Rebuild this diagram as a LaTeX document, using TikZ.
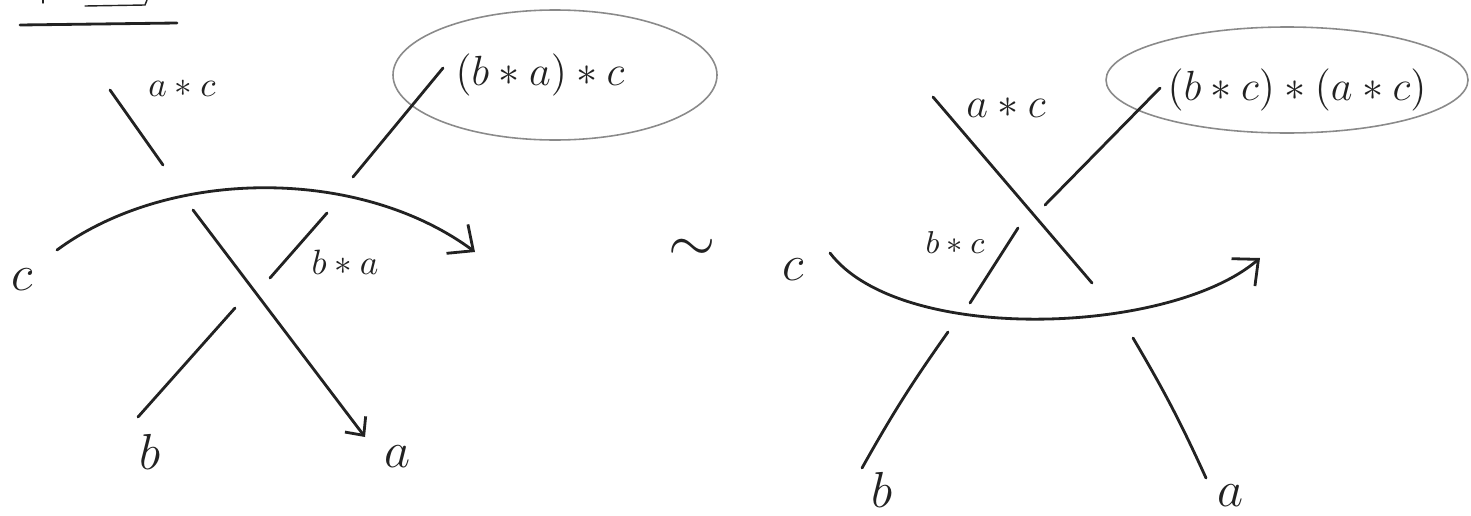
\documentclass[tikz,border=0pt]{standalone}
\usepackage{amsmath,amssymb}
\usepackage{xcolor}
\usetikzlibrary{arrows.meta}
\definecolor{ink}{HTML}{222222}
\definecolor{pencil}{HTML}{8A8A8A}

\begin{document}
\begin{tikzpicture}[
    x=0.01cm, y=-0.01cm,
    strand/.style={draw=ink, thick, line cap=round},
    arr/.style={strand, -{Straight Barb[length=2mm, width=3.6mm]}},
    tip/.style={strand, -{Straight Barb[length=1.4mm, width=2.6mm]}},
    blob/.style={draw=pencil, line width=0.45pt},
    lbl/.style={inner sep=0pt, text=ink},
    big/.style={lbl, font=\large},
    letter/.style={lbl, font=\Large}
]
    \useasboundingbox (0,0) rectangle (1471,515);

    % Cut-off heading
    \coordinate (h1) at (20,25); \coordinate (h2) at (177,23);
    \draw[strand] (h1) -- (h2);
    \draw[strand, thin] (43,0) -- (43,3);
    \draw[strand, thin] (85,6) -- (145,5) -- (147,0);

    % Left diagram: strand ends
    \coordinate (la1) at (110,90);  \coordinate (la2) at (163,165);
    \coordinate (la3) at (193,210); \coordinate (la4) at (365,437);
    \coordinate (lb1) at (138,417); \coordinate (lb2) at (235,308);
    \coordinate (lb3) at (270,278); \coordinate (lb4) at (327,213);
    \coordinate (lb5) at (353,177); \coordinate (lb6) at (443,68);
    \coordinate (lc1) at (57,250);  \coordinate (lc2) at (475,252);

    % Left diagram: labels
    \node[lbl] (lac) at (182,88) {$a*c$};
    \node[lbl] (lba) at (345,262) {$b*a$};
    \node[big] (lexpr) at (540,75) {$(b*a)*c$};
    \node[letter] (lc) at (22,280) {$c$};
    \node[letter] (lb) at (150,452) {$b$};
    \node[letter] (la) at (398,457) {$a$};
    \draw[blob] (555,75) ellipse [x radius=162, y radius=65];

    % Left diagram: strands
    \draw[strand] (la1) -- (la2);
    \draw[tip] (la3) -- (la4);
    \draw[strand] (lb1) -- (lb2);
    \draw[strand] (lb3) -- (lb4);
    \draw[strand] (lb5) -- (lb6);
    \draw[arr] (lc1) .. controls (170,167) and (360,167) .. (lc2);

    % Equivalence
    \node[lbl, font=\LARGE] (eqv) at (692,250) {$\sim$};

    % Right diagram: strand ends
    \coordinate (ra1) at (933,97);   \coordinate (ra2) at (1092,283);
    \coordinate (ra3) at (1133,338); \coordinate (ra4) at (1206,478);
    \coordinate (rb1) at (862,468);  \coordinate (rb2) at (948,332);
    \coordinate (rb3) at (970,303);  \coordinate (rb4) at (1018,228);
    \coordinate (rb5) at (1045,205); \coordinate (rb6) at (1160,88);
    \coordinate (rc1) at (830,253);  \coordinate (rc2) at (1260,258);

    % Right diagram: labels
    \node[big] (rac) at (1006,108) {$a*c$};
    \node[lbl, font=\small] (rbc) at (955,243) {$b*c$};
    \node[big] (rexpr) at (1297,90) {$(b*c)*(a*c)$};
    \node[letter] (rc) at (793,270) {$c$};
    \node[letter] (rb) at (882,490) {$b$};
    \node[letter] (ra) at (1230,496) {$a$};
    \draw[blob] (1287,80) ellipse [x radius=181, y radius=53];

    % Right diagram: strands
    \draw[strand] (ra1) -- (ra2);
    \draw[strand] (ra3) to[bend left=3] (ra4);
    \draw[strand] (rb1) to[bend left=3] (rb2);
    \draw[strand] (rb3) -- (rb4);
    \draw[strand] (rb5) -- (rb6);
    \draw[arr] (rc1) .. controls (900,345) and (1170,335) .. (rc2);
\end{tikzpicture}
\end{document}
